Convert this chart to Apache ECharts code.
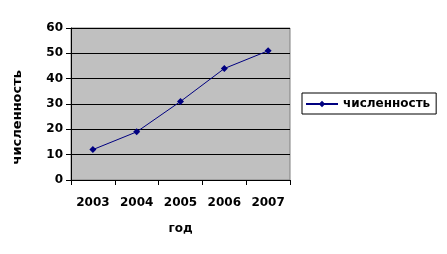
<!DOCTYPE html>
<html><head><meta charset="utf-8">
<script src="https://cdn.jsdelivr.net/npm/echarts@6/dist/echarts.min.js"></script>
<style>html,body{margin:0;padding:0;background:#fff}#c{width:447px;height:254px}</style>
</head><body><div id="c"></div>
<script>
const categories = ['2003','2004','2005','2006','2007'];
const values = [12, 19, 31, 44, 51];
const seriesName = 'численность';
const xName = 'год';
const yName = 'численность';

const chart = echarts.init(document.getElementById('c'));
const font = 'DejaVu Sans, Verdana, sans-serif';
const ts = {fontFamily: font, fontSize: 12, fontWeight: 'bold', color: '#000'};
chart.setOption({
  animation: false,
  grid: {left: 71, top: 28, width: 219, height: 152, show: true, backgroundColor: '#c0c0c0', borderColor: '#808080', borderWidth: 1},
  legend: {
    left: 302, top: 93, orient: 'vertical',
    borderColor: '#000', borderWidth: 1, borderRadius: 0, padding: [5, 6, 4, 3],
    itemWidth: 32, itemHeight: 8, itemGap: 5,
    textStyle: Object.assign({}, ts),
    data: [{name: seriesName}]
  },
  graphic: [{
    type: 'text', left: 11, top: 70, rotation: Math.PI / 2,
    style: Object.assign({text: yName, fill: '#000', font: 'bold 13px ' + font})
  }],
  xAxis: {
    type: 'category', data: categories, boundaryGap: true,
    name: xName, nameLocation: 'middle', nameGap: 43,
    nameTextStyle: ts,
    axisLine: {lineStyle: {color: '#000', width: 1}},
    axisTick: {show: true, inside: false, length: 5, lineStyle: {color: '#000'}},
    axisLabel: Object.assign({}, ts, {margin: 17})
  },
  yAxis: {
    type: 'value', min: 0, max: 60, interval: 10,
    axisLine: {show: true, lineStyle: {color: '#000', width: 1}},
    axisTick: {show: true, inside: false, length: 5, lineStyle: {color: '#000'}},
    axisLabel: Object.assign({}, ts, {margin: 8}),
    splitLine: {show: true, lineStyle: {color: '#000', width: 1}}
  },
  series: [{
    name: seriesName, type: 'line', data: values,
    symbol: 'diamond', symbolSize: 7,
    itemStyle: {color: '#000080'},
    lineStyle: {color: '#000080', width: 1}
  }]
});
</script></body></html>
